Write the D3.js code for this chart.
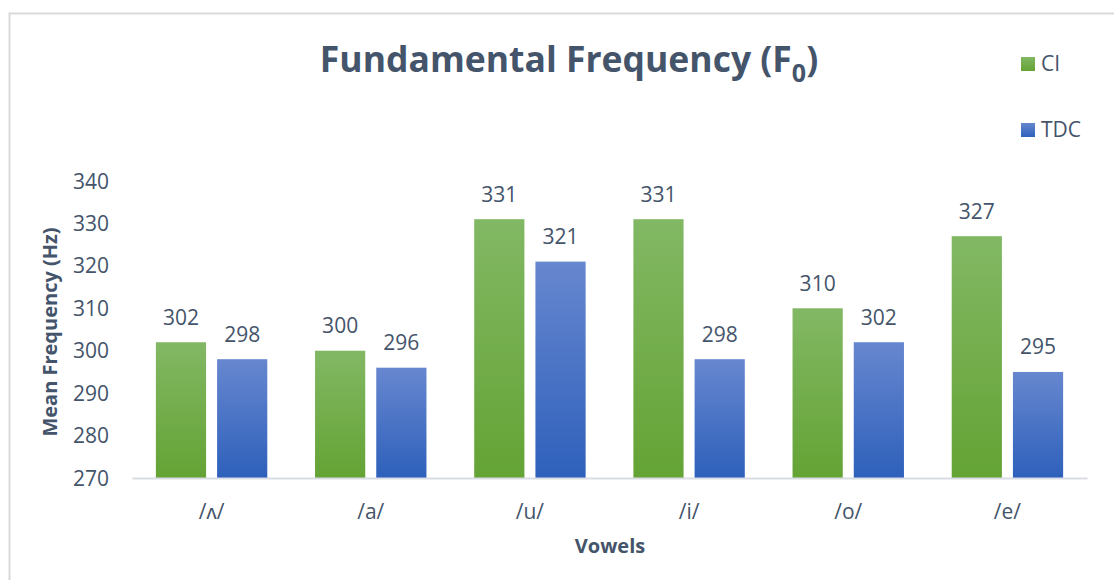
<!DOCTYPE html>
<html>
<head>
<meta charset="utf-8">
<script src="https://cdn.jsdelivr.net/npm/d3@7"></script>
<style>
  html, body { margin: 0; padding: 0; background: #fff; }
  svg { display: block; }
  text { font-family: "Open Sans", sans-serif; fill: #44546A; }
</style>
</head>
<body>
<svg id="chart" width="1114" height="580"></svg>
<script>
// Mean F0 per vowel for the two groups
const vowels = ["/ʌ/", "/a/", "/u/", "/i/", "/o/", "/e/"];
const seriesNames = ["CI", "TDC"];
const ciValues = [302, 300, 331, 331, 310, 327];
const tdcValues = [298, 296, 321, 298, 302, 295];
const yTicks = [270, 280, 290, 300, 310, 320, 330, 340];

const svg = d3.select("#chart");
const W = 1114, H = 580;
const labelSize = "21px";

// outer frame
svg.append("rect")
  .attr("x", 9.5).attr("y", 13.5)
  .attr("width", W + 20).attr("height", H + 20)
  .attr("fill", "#fff").attr("stroke", "#d9d9d9").attr("stroke-width", 2);

const plot = { left: 132, right: 1087, top: 181, bottom: 478 };

const x0 = d3.scaleBand().domain(vowels).range([plot.left, plot.right]).paddingInner(0.3).paddingOuter(0.15);
const x1 = d3.scaleBand().domain(seriesNames).range([0, x0.bandwidth()]).paddingInner(0.18);
const y = d3.scaleLinear().domain([270, 340]).range([plot.bottom, plot.top]);

// gradients, one per series, spanning each bar
const defs = svg.append("defs");
const gradStops = {
  CI: ["#82b864", "#64a334"],
  TDC: ["#6787cf", "#2e60bb"]
};
seriesNames.forEach(s => {
  const g = defs.append("linearGradient").attr("id", "grad-" + s)
    .attr("x1", 0).attr("y1", 0).attr("x2", 0).attr("y2", 1);
  g.append("stop").attr("offset", "0%").attr("stop-color", gradStops[s][0]);
  g.append("stop").attr("offset", "100%").attr("stop-color", gradStops[s][1]);
});

// y axis (labels only)
const yAxis = d3.axisLeft(y).tickValues(yTicks).tickSize(0).tickPadding(0);
const yG = svg.append("g").attr("transform", `translate(${plot.left - 23},0)`).call(yAxis);
yG.select(".domain").remove();
yG.selectAll("text").style("font-size", labelSize).attr("fill", "#44546A").attr("dy", "0.34em");

// bars
const rows = vowels.map((v, i) => ({ vowel: v, CI: ciValues[i], TDC: tdcValues[i] }));
const groups = svg.append("g").selectAll("g").data(rows).join("g")
  .attr("transform", d => `translate(${x0(d.vowel)},0)`);

groups.selectAll("rect").data(d => seriesNames.map(s => ({ s, v: d[s] }))).join("rect")
  .attr("x", d => x1(d.s))
  .attr("y", d => y(d.v))
  .attr("width", x1.bandwidth())
  .attr("height", d => y(270) - y(d.v))
  .attr("fill", d => `url(#grad-${d.s})`);

groups.selectAll("text.val").data(d => seriesNames.map(s => ({ s, v: d[s] }))).join("text")
  .attr("class", "val")
  .attr("x", d => x1(d.s) + x1.bandwidth() / 2)
  .attr("y", d => y(d.v) - 25)
  .attr("dy", "0.35em")
  .attr("text-anchor", "middle")
  .style("font-size", labelSize)
  .text(d => d.v);

// x axis baseline and labels
const xAxis = d3.axisBottom(x0).tickSize(0).tickPadding(0);
const xG = svg.append("g").attr("transform", `translate(0,${plot.bottom})`).call(xAxis);
xG.select(".domain").attr("stroke", "#d9dde3").attr("stroke-width", 2);
xG.selectAll("text").style("font-size", labelSize).attr("fill", "#44546A").attr("y", 34).attr("dy", "0.35em");

// axis titles
svg.append("text")
  .attr("x", 610).attr("y", 546).attr("dy", "0.35em")
  .attr("text-anchor", "middle")
  .style("font-size", "20px").style("font-weight", 700)
  .text("Vowels");

svg.append("text")
  .attr("transform", "translate(50,332) rotate(-90)")
  .attr("dy", "0.35em")
  .attr("text-anchor", "middle")
  .style("font-size", "20px").style("font-weight", 700)
  .text("Mean Frequency (Hz)");

// chart title with subscript
const title = svg.append("text")
  .attr("x", 569).attr("y", 72)
  .attr("text-anchor", "middle")
  .style("font-size", "35.5px").style("font-weight", 700);
title.append("tspan").text("Fundamental Frequency (F");
title.append("tspan").attr("dy", 10).style("font-size", "25px").text("0");
title.append("tspan").attr("dy", -10).text(")");

// legend
const legend = svg.append("g").selectAll("g").data(seriesNames).join("g")
  .attr("transform", (d, i) => `translate(1021,${57 + i * 66})`);
legend.append("rect").attr("width", 14).attr("height", 14)
  .attr("fill", d => `url(#grad-${d})`);
legend.append("text").attr("x", 20).attr("y", 7).attr("dy", "0.35em")
  .style("font-size", labelSize).text(d => d);
</script>
</body>
</html>
